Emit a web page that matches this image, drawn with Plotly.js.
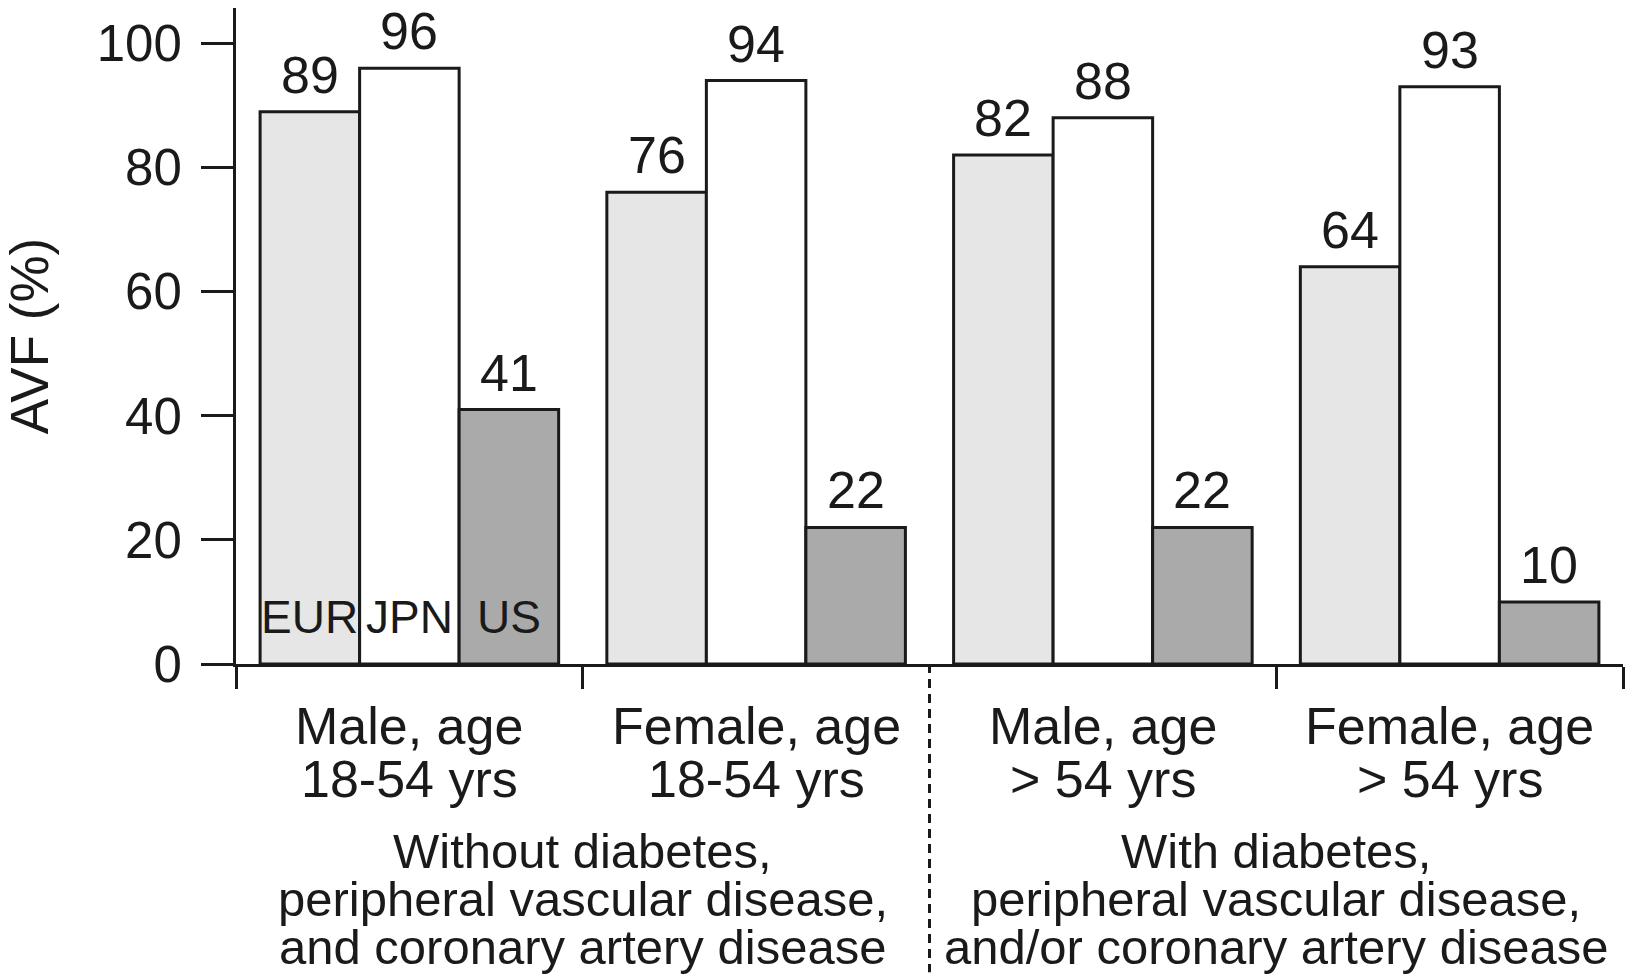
<!DOCTYPE html>
<html>
<head>
<meta charset="utf-8">
<script src="https://cdn.plot.ly/plotly-3.0.1.min.js"></script>
<style>html,body{margin:0;padding:0;background:#fff;}#chart{width:1626px;height:980px;}</style>
</head>
<body>
<div id="chart"></div>
<script>
// ---- data ----
const groupIndex = [0, 1, 2, 3];
const catLine1 = ["Male, age", "Female, age", "Male, age", "Female, age"];
const catLine2 = ["18-54 yrs", "18-54 yrs", "> 54 yrs", "> 54 yrs"];
const seriesNames = ["EUR", "JPN", "US"];
const eurValues = [89, 76, 82, 64];
const jpnValues = [96, 94, 88, 93];
const usValues = [41, 22, 22, 10];
const yTickVals = [0, 20, 40, 60, 80, 100];
const leftGroupLines = ["Without diabetes,", "peripheral vascular disease,", "and coronary artery disease"];
const rightGroupLines = ["With diabetes,", "peripheral vascular disease,", "and/or coronary artery disease"];

// ---- styles ----
const ink = "#1a1a1a";
const FONT = "'Liberation Sans', Arial, Helvetica, sans-serif";
const fills = ["#e6e6e6", "#ffffff", "#aaaaaa"];
const bargap = 0.139;
const seriesValues = [eurValues, jpnValues, usValues];

const traces = seriesValues.map((vals, j) => ({
  type: "bar",
  name: seriesNames[j],
  x: groupIndex,
  y: vals,
  marker: {color: fills[j], line: {color: ink, width: 3}},
  hoverinfo: "skip"
}));

const annotations = [];
const bw = (1 - bargap) / 3;
// value labels above bars
seriesValues.forEach((vals, j) => {
  vals.forEach((v, i) => {
    annotations.push({
      xref: "x", yref: "y", x: groupIndex[i] + (j - 1) * bw, y: v,
      yanchor: "middle", xanchor: "center", yshift: 37,
      text: String(v), showarrow: false, font: {family: FONT, size: 52, color: ink}
    });
  });
});
// series names inside first group
seriesNames.forEach((nm, j) => {
  annotations.push({
    xref: "x", yref: "y", x: groupIndex[0] + (j - 1) * bw, y: 0,
    yanchor: "middle", xanchor: "center", yshift: 47,
    text: nm, showarrow: false, font: {family: FONT, size: 46, color: ink}
  });
});
groupIndex.forEach((g, i) => {
  annotations.push({xref: "x", yref: "paper", x: g, y: 0, yanchor: "middle", xanchor: "center",
    yshift: -62, text: catLine1[i], showarrow: false, font: {family: FONT, size: 52, color: ink}});
  annotations.push({xref: "x", yref: "paper", x: g, y: 0, yanchor: "middle", xanchor: "center",
    yshift: -115, text: catLine2[i], showarrow: false, font: {family: FONT, size: 52, color: ink}});
});
const lineShifts = [-187, -235, -283];
leftGroupLines.forEach((t, k) => {
  annotations.push({xref: "x", yref: "paper", x: (groupIndex[0] + groupIndex[1]) / 2, y: 0,
    yanchor: "middle", xanchor: "center", yshift: lineShifts[k], text: t, showarrow: false,
    font: {family: FONT, size: 49, color: ink}});
});
rightGroupLines.forEach((t, k) => {
  annotations.push({xref: "x", yref: "paper", x: (groupIndex[2] + groupIndex[3]) / 2, y: 0,
    yanchor: "middle", xanchor: "center", yshift: lineShifts[k], text: t, showarrow: false,
    font: {family: FONT, size: 49, color: ink}});
});

const layout = {
  width: 1626, height: 980,
  margin: {l: 236, r: 3, t: 8, b: 316},
  paper_bgcolor: "#fff", plot_bgcolor: "#fff",
  showlegend: false,
  barmode: "group", bargap: bargap, bargroupgap: 0,
  font: {family: FONT, color: ink},
  xaxis: {
    type: "linear", range: [-0.5, 3.5],
    tickvals: [-0.5, 0.5, 2.5, 3.5], showticklabels: false,
    ticks: "outside", ticklen: 22, tickwidth: 3, tickcolor: ink,
    showline: true, linewidth: 3, linecolor: ink,
    showgrid: false, zeroline: false, fixedrange: true
  },
  yaxis: {
    range: [0, 105.7], tickvals: yTickVals,
    ticks: "outside", ticklen: 32, tickwidth: 3, tickcolor: ink,
    ticklabelstandoff: 9,
    tickfont: {family: FONT, size: 51, color: ink},
    showline: true, linewidth: 3, linecolor: ink,
    showgrid: false, zeroline: false, fixedrange: true,
    title: {text: "AVF (%)", font: {family: FONT, size: 53, color: ink}, standoff: 38}
  },
  shapes: [{
    type: "line", xref: "x", yref: "paper",
    x0: (groupIndex[1] + groupIndex[2]) / 2, x1: (groupIndex[1] + groupIndex[2]) / 2,
    y0: 0, y1: -0.47,
    line: {color: ink, width: 3, dash: "9px,6px"}
  }],
  annotations: annotations
};

Plotly.newPlot("chart", traces, layout, {displayModeBar: false, staticPlot: true});
</script>
</body>
</html>
